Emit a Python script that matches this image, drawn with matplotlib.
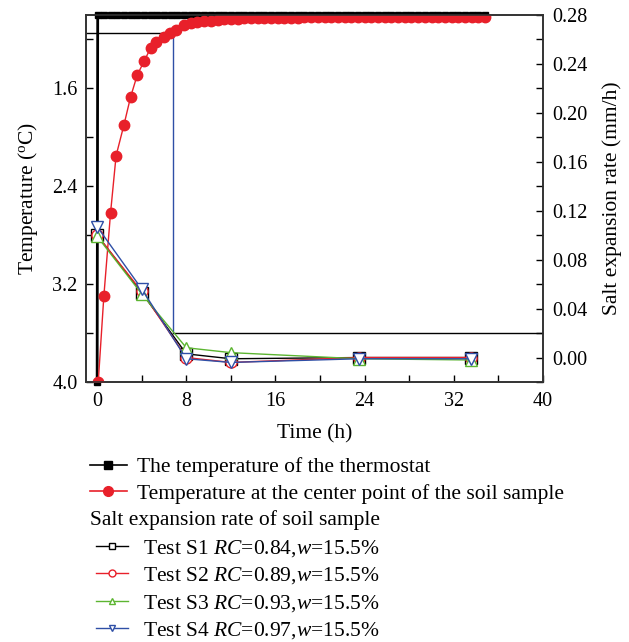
import matplotlib
matplotlib.use('Agg')
import matplotlib.pyplot as plt
from matplotlib.ticker import MultipleLocator
from matplotlib.lines import Line2D

plt.rcParams['font.family'] = ['Liberation Serif', 'DejaVu Serif']
plt.rcParams['mathtext.fontset'] = 'custom'
plt.rcParams['mathtext.rm'] = 'Liberation Serif'
plt.rcParams['mathtext.it'] = 'Liberation Serif:italic'
plt.rcParams['font.size'] = 15.5
plt.rcParams['xtick.labelsize'] = 14.5
plt.rcParams['ytick.labelsize'] = 14.5

# temperature of the thermostat (h, degC shown on inverted axis)
thermo_time = [0.0, 0.05, 0.6, 1.2, 1.8, 2.4, 3.0, 3.6, 4.2, 4.8, 5.4, 6.0, 6.6, 7.2, 7.8,
               8.4, 9.0, 9.6, 10.2, 10.8, 11.4, 12.0, 12.6, 13.2, 13.8, 14.4, 15.0, 15.6,
               16.2, 16.8, 17.4, 18.0, 18.6, 19.2, 19.8, 20.4, 21.0, 21.6, 22.2, 22.8, 23.4,
               24.0, 24.6, 25.2, 25.8, 26.4, 27.0, 27.6, 28.2, 28.8, 29.4, 30.0, 30.6, 31.2,
               31.8, 32.4, 33.0, 33.6, 34.2, 34.8]
thermo_temp = [4.0, 1.0, 1.0, 1.0, 1.0, 1.0, 1.0, 1.0, 1.0, 1.0, 1.0, 1.0, 1.0, 1.0, 1.0,
               1.0, 1.0, 1.0, 1.0, 1.0, 1.0, 1.0, 1.0, 1.0, 1.0, 1.0, 1.0, 1.0,
               1.0, 1.0, 1.0, 1.0, 1.0, 1.0, 1.0, 1.0, 1.0, 1.0, 1.0, 1.0, 1.0,
               1.0, 1.0, 1.0, 1.0, 1.0, 1.0, 1.0, 1.0, 1.0, 1.0, 1.0, 1.0, 1.0,
               1.0, 1.0, 1.0, 1.0, 1.0, 1.0]

# temperature at the centre point of the soil sample
center_time = [0.1, 0.6, 1.2, 1.7, 2.4, 3.0, 3.6, 4.2, 4.8, 5.3, 6.0, 6.5, 7.1, 7.8,
               8.4, 9.0, 9.6, 10.2, 10.8, 11.4, 12.0, 12.6, 13.2, 13.8, 14.4, 15.0, 15.6,
               16.2, 16.8, 17.4, 18.0, 18.6, 19.2, 19.8, 20.4, 21.0, 21.6, 22.2, 22.8, 23.4,
               24.0, 24.6, 25.2, 25.8, 26.4, 27.0, 27.6, 28.2, 28.8, 29.4, 30.0, 30.6, 31.2,
               31.8, 32.4, 33.0, 33.6, 34.2, 34.8]
center_temp = [4.0, 3.30, 2.62, 2.15, 1.90, 1.67, 1.49, 1.38, 1.27, 1.22, 1.18, 1.15, 1.12, 1.08,
               1.065, 1.055, 1.05, 1.045, 1.04, 1.035, 1.032, 1.03, 1.028, 1.026, 1.025, 1.024, 1.023,
               1.022, 1.022, 1.021, 1.021, 1.02, 1.02, 1.02, 1.02, 1.02, 1.02, 1.02, 1.02, 1.02,
               1.02, 1.02, 1.02, 1.02, 1.02, 1.02, 1.02, 1.02, 1.02, 1.02, 1.02, 1.02, 1.02,
               1.02, 1.02, 1.02, 1.02, 1.02, 1.02]

# salt expansion rate (mm/h)
rate_time = [0, 4, 8, 12, 23.5, 33.5]
rate_s1 = [0.100, 0.053, 0.003, -0.001, 0.000, 0.000]
rate_s2 = [0.100, 0.054, 0.000, -0.004, 0.000, 0.000]
rate_s3 = [0.099, 0.052, 0.008, 0.004, -0.001, -0.002]
rate_s4 = [0.107, 0.056, -0.001, -0.004, -0.001, -0.001]

# guide lines drawn on the temperature axis
guide_time = [-1, 6.8, 6.8, 40]
guide_temp = [1.15, 1.15, 3.6, 3.6]

red = '#e8202a'
green = '#5cb531'
blue = '#2f4fa6'

fig = plt.figure(figsize=(6.29, 6.42), dpi=100)
ax = fig.add_axes([86 / 629, 1 - 382 / 642, 457 / 629, 367 / 642])
ax2 = ax.twinx()

ax.plot(guide_time[:2], guide_temp[:2], color='black', lw=1)
ax.plot(guide_time[1:3], guide_temp[1:3], color=blue, lw=1)
ax.plot(guide_time[2:], guide_temp[2:], color='black', lw=1)

ax.plot(thermo_time, thermo_temp, color='black', marker='s', ms=4, lw=2, clip_on=False, zorder=3)
ax.plot(center_time, center_temp, color=red, marker='o', ms=7.5, lw=1, zorder=4)

ax.set_xlim(-1, 40)
ax.set_ylim(4.0, 1.0)
ax.xaxis.set_major_locator(MultipleLocator(8))
ax.xaxis.set_minor_locator(MultipleLocator(4))
ax.set_yticks([4.0, 3.2, 2.4, 1.6])
ax.set_yticks([3.6, 2.8, 2.0, 1.2], minor=True)
ax.set_xlabel('Time (h)', labelpad=10)
ax.set_ylabel('Temperature ($^{\\mathrm{o}}$C)', labelpad=9)

mk = dict(mfc='white', ms=8, mew=1, lw=1)
ax2.plot(rate_time, rate_s1, color='black', marker='s', **mk)
ax2.plot(rate_time, rate_s2, color=red, marker='o', **mk)
ax2.plot(rate_time, rate_s3, color=green, marker='^', **mk)
ax2.plot(rate_time, rate_s4, color=blue, marker='v', **mk)
ax2.set_ylim(-0.02, 0.28)
ax2.yaxis.set_major_locator(MultipleLocator(0.04))
ax2.yaxis.set_minor_locator(MultipleLocator(0.02))
ax2.yaxis.set_major_formatter(plt.FormatStrFormatter('%.2f'))
ax2.set_ylabel('Salt expansion rate (mm/h)', labelpad=10)

for a in (ax, ax2):
    a.tick_params(which='both', direction='in', length=5, width=1)
    for s in a.spines.values():
        s.set_color('#333333')
        s.set_linewidth(1.2)
ax.tick_params(axis='x', pad=7)
ax.tick_params(axis='y', pad=6)
ax2.tick_params(axis='y', pad=7)

h_temp = [Line2D([], [], color='black', marker='s', ms=6, lw=1.2),
          Line2D([], [], color=red, marker='o', ms=7, lw=1.2)]
fig.legend(h_temp, ['The temperature of the thermostat',
                    'Temperature at the center point of the soil sample'],
           loc='upper left', bbox_to_anchor=(90 / 629, 1 - 457 / 642),
           frameon=False, handlelength=1.7, handletextpad=0.5, labelspacing=0.3,
           borderaxespad=0, borderpad=0)
fig.text(90 / 629, 1 - 520 / 642, 'Salt expansion rate of soil sample', va='center', ha='left')

h_rate = [Line2D([], [], color='black', marker='s', mfc='white', ms=5, lw=1),
          Line2D([], [], color=red, marker='o', mfc='white', ms=5, lw=1),
          Line2D([], [], color=green, marker='^', mfc='white', ms=5, lw=1),
          Line2D([], [], color=blue, marker='v', mfc='white', ms=5, lw=1)]
fig.legend(h_rate, ['Test S1 $RC$=0.84,$w$=15.5%', 'Test S2 $RC$=0.89,$w$=15.5%',
                    'Test S3 $RC$=0.93,$w$=15.5%', 'Test S4 $RC$=0.97,$w$=15.5%'],
           loc='upper left', bbox_to_anchor=(96 / 629, 1 - 538 / 642),
           frameon=False, handlelength=1.5, handletextpad=0.7, labelspacing=0.3,
           borderaxespad=0, borderpad=0)

fig.savefig('out.png', dpi=100)
